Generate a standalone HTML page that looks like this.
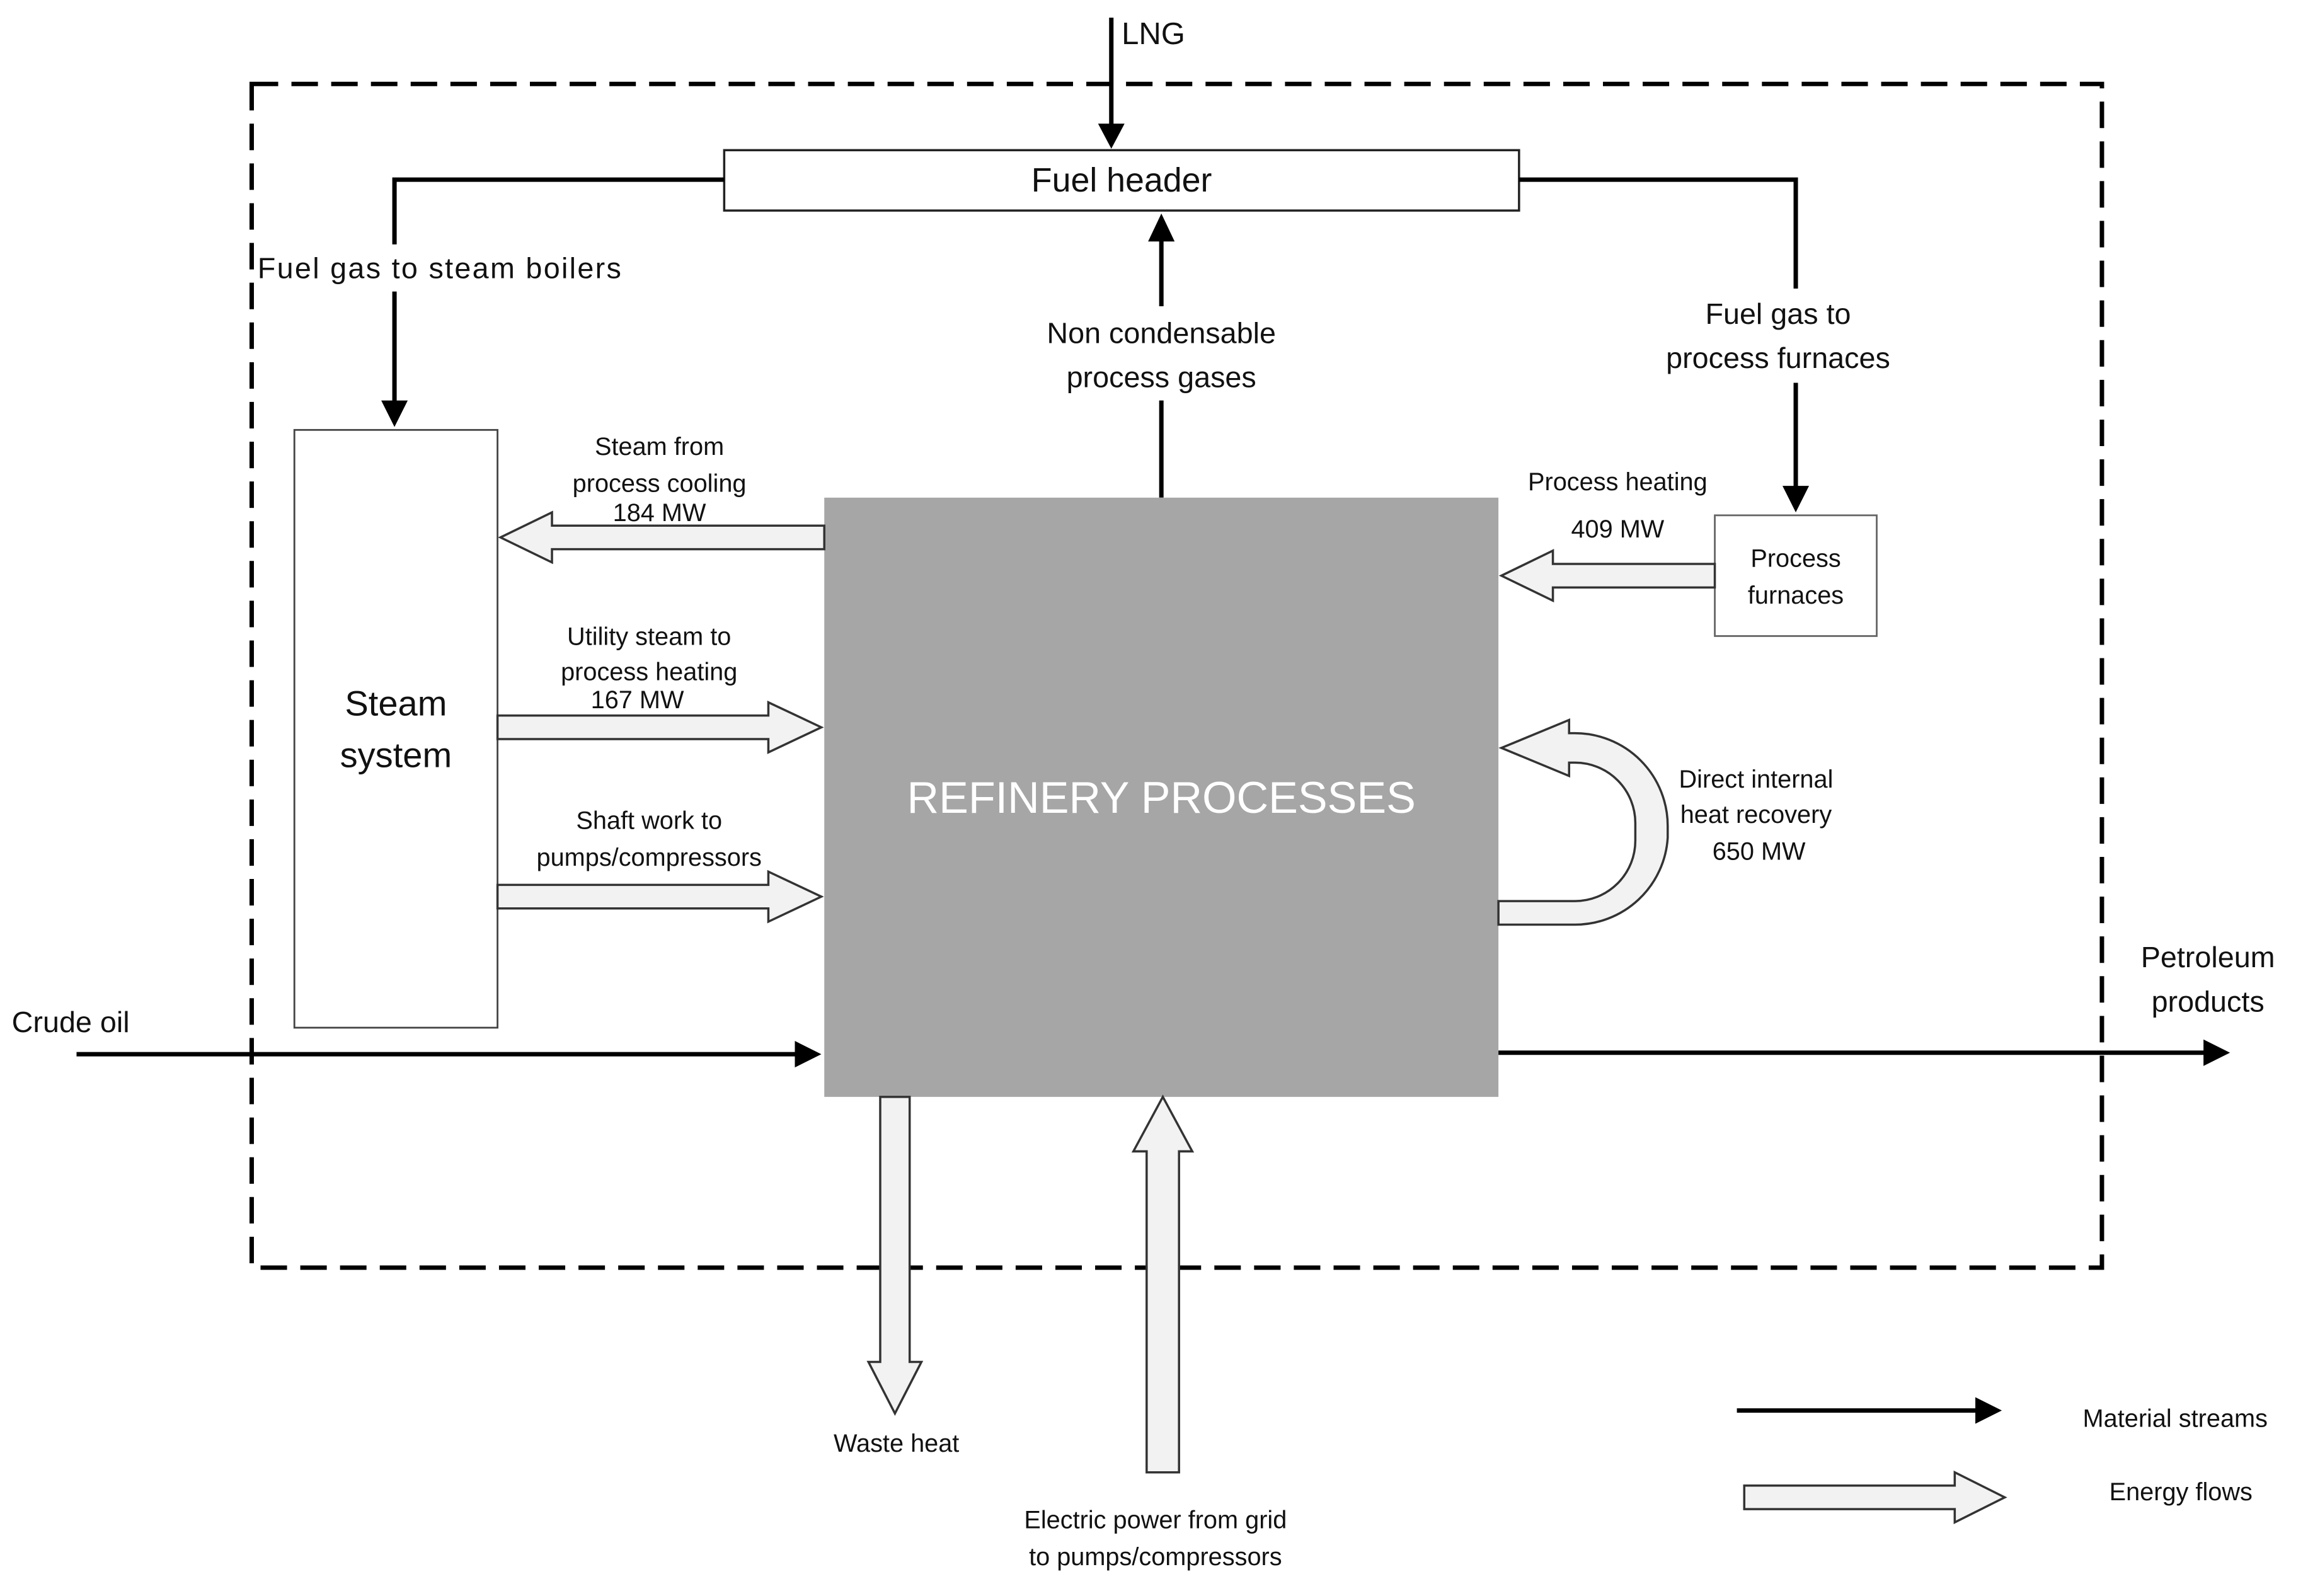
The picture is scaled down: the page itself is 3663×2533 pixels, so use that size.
<!DOCTYPE html>
<html><head><meta charset="utf-8"><style>
html,body{margin:0;padding:0;background:#fff;width:3663px;height:2533px;overflow:hidden}
svg{display:block}
text{font-family:"Liberation Sans",sans-serif;fill:#111}
</style></head><body>
<svg width="3663" height="2533" viewBox="0 0 1568 1084" preserveAspectRatio="none" xmlns="http://www.w3.org/2000/svg">
<!-- dashed boundary -->
<rect x="171" y="57" width="1257" height="804" fill="none" stroke="#000" stroke-width="3" stroke-dasharray="18,9"/>
<!-- LNG -->
<line x1="755" y1="12" x2="755" y2="90" stroke="#000" stroke-width="3"/>
<path d="M746,84 L755,101 L764,84 z" fill="#000"/>
<text x="762" y="30" font-size="21">LNG</text>
<!-- fuel header -->
<rect x="492" y="102" width="540" height="41" fill="#fff" stroke="#222" stroke-width="1.5"/>
<text x="762" y="130" font-size="23" text-anchor="middle">Fuel header</text>
<!-- left fuel line -->
<polyline points="492,122 268,122 268,276" fill="none" stroke="#000" stroke-width="3"/>
<path d="M259,272 L268,290 L277,272 z" fill="#000"/>
<rect x="173" y="166" width="252" height="32" fill="#fff"/>
<text x="175" y="189" font-size="20" textLength="247">Fuel gas to steam boilers</text>
<!-- right fuel line -->
<polyline points="1032,122 1220,122 1220,334" fill="none" stroke="#000" stroke-width="3"/>
<path d="M1211,330 L1220,348 L1229,330 z" fill="#000"/>
<rect x="1120" y="196" width="178" height="64" fill="#fff"/>
<text x="1208" y="220" font-size="20" text-anchor="middle">Fuel gas to</text>
<text x="1208" y="250" font-size="20" text-anchor="middle">process furnaces</text>
<!-- non condensable -->
<line x1="789" y1="338" x2="789" y2="160" stroke="#000" stroke-width="3"/>
<path d="M780,164 L789,145 L798,164 z" fill="#000"/>
<rect x="698" y="208" width="182" height="64" fill="#fff"/>
<text x="789" y="233" font-size="20" text-anchor="middle">Non condensable</text>
<text x="789" y="263" font-size="20" text-anchor="middle">process gases</text>
<!-- steam system -->
<rect x="200" y="292" width="138" height="406" fill="#fff" stroke="#444" stroke-width="1.2"/>
<text x="269" y="486" font-size="24" text-anchor="middle">Steam</text>
<text x="269" y="521" font-size="24" text-anchor="middle">system</text>
<!-- refinery -->
<rect x="560" y="338" width="458" height="407" fill="#a6a6a6"/>
<text x="789" y="552" font-size="30" text-anchor="middle" style="fill:#fff">REFINERY PROCESSES</text>
<!-- process furnaces -->
<rect x="1165" y="350" width="110" height="82" fill="#fff" stroke="#666" stroke-width="1.2"/>
<text x="1220" y="385" font-size="17" text-anchor="middle">Process</text>
<text x="1220" y="410" font-size="17" text-anchor="middle">furnaces</text>
<g fill="#f2f2f2" stroke="#333" stroke-width="1.5">
<path d="M560,357 L375,357 L375,348 L340,365 L375,382 L375,373 L560,373 z"/>
<path d="M338,486 L522,486 L522,477 L558,494 L522,511 L522,502 L338,502 z"/>
<path d="M338,601 L522,601 L522,592 L558,609 L522,626 L522,617 L338,617 z"/>
<path d="M1165,383 L1055,383 L1055,374 L1020,391 L1055,408 L1055,399 L1165,399 z"/>
<path d="M1018,612 L1070,612 A41,41 0 0 0 1111,571 L1111,559 A41,41 0 0 0 1070,518 L1066,518 L1066,527 L1020,508 L1066,489 L1066,498 L1070,498 A63,63 0 0 1 1133,561 L1133,569 A63,63 0 0 1 1070,628 L1018,628 z"/>
<path d="M598,745 L598,925 L590,925 L608,960 L626,925 L618,925 L618,745 z"/>
<path d="M779,1000 L779,782 L770,782 L790,745 L810,782 L801,782 L801,1000 z"/>
<path d="M1185,1009 L1328,1009 L1328,1000 L1362,1017 L1328,1034 L1328,1025 L1185,1025 z"/>
</g>
<!-- crude oil -->
<line x1="52" y1="716" x2="545" y2="716" stroke="#000" stroke-width="3"/>
<path d="M540,707 L558,716 L540,725 z" fill="#000"/>
<text x="8" y="701" font-size="20">Crude oil</text>
<!-- petroleum -->
<line x1="1018" y1="715" x2="1500" y2="715" stroke="#000" stroke-width="3"/>
<path d="M1497,706 L1515,715 L1497,724 z" fill="#000"/>
<text x="1500" y="657" font-size="20" text-anchor="middle">Petroleum</text>
<text x="1500" y="687" font-size="20" text-anchor="middle">products</text>
<!-- legend -->
<line x1="1180" y1="958" x2="1345" y2="958" stroke="#000" stroke-width="3"/>
<path d="M1342,949 L1360,958 L1342,967 z" fill="#000"/>
<text x="1415" y="969" font-size="17">Material streams</text>
<text x="1433" y="1019" font-size="17">Energy flows</text>
<g font-size="17" text-anchor="middle">
<text x="448" y="309">Steam from</text>
<text x="448" y="334">process cooling</text>
<text x="448" y="354">184 MW</text>
<text x="441" y="438">Utility steam to</text>
<text x="441" y="462">process heating</text>
<text x="433" y="481">167 MW</text>
<text x="441" y="563">Shaft work to</text>
<text x="441" y="588">pumps/compressors</text>
<text x="1099" y="333">Process heating</text>
<text x="1099" y="365">409 MW</text>
<text x="1193" y="535">Direct internal</text>
<text x="1193" y="559">heat recovery</text>
<text x="1195" y="584">650 MW</text>
<text x="609" y="986">Waste heat</text>
<text x="785" y="1038">Electric power from grid</text>
<text x="785" y="1063">to pumps/compressors</text>
</g>
</svg>
</body></html>
